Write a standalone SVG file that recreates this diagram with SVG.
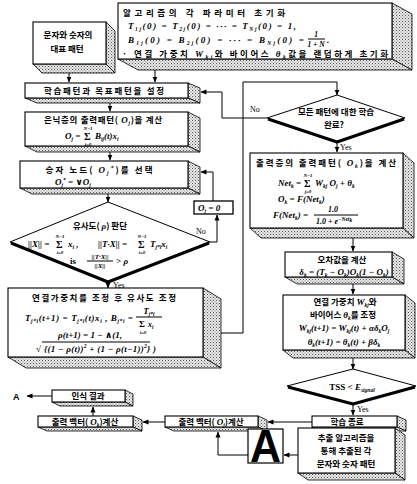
<svg xmlns="http://www.w3.org/2000/svg" width="417" height="484" viewBox="0 0 417 484">
<defs>
  <pattern id="dots" width="3" height="3" patternUnits="userSpaceOnUse">
    <rect width="3" height="3" fill="#e6e6e6"/>
    <rect width="1" height="1" fill="#5a5a5a"/>
    <rect x="1.5" y="1.5" width="1" height="1" fill="#8a8a8a"/>
  </pattern>
  <marker id="ah" markerWidth="6" markerHeight="6" refX="5.5" refY="3" orient="auto" markerUnits="userSpaceOnUse">
    <path d="M0,0.5 L6,3 L0,5.5 z" fill="#000"/>
  </marker>
  <style>
    .face{fill:#fff;stroke:#000;stroke-width:1.1}
    .shade{fill:url(#dots);stroke:#000;stroke-width:0.8;stroke-linejoin:round}
    .dia{fill:#fff;stroke:#000;stroke-width:1}
    .diash{fill:none;stroke:#000;stroke-width:3;stroke-linejoin:round}
    .ln{fill:none;stroke:#000;stroke-width:1}
    .ar{marker-end:url(#ah)}
    .ko{font-family:"Noto Sans CJK KR","Noto Sans CJK SC",sans-serif;font-weight:700;font-size:8.5px;fill:#000}
    .m{font-family:"Liberation Serif","DejaVu Serif",serif;font-style:italic;font-weight:700;font-size:9px;fill:#000}
    .sg{font-family:"Liberation Serif","DejaVu Serif",serif;font-weight:700;font-size:10px}
    .sm{font-size:5.5px}
    .lim{font-family:"Liberation Serif","DejaVu Serif",serif;font-style:italic;font-weight:700;font-size:5px;text-anchor:middle}
    .c{text-anchor:middle}
    .lbl{font-family:"Liberation Serif","DejaVu Serif",serif;font-size:8px;fill:#000}
  </style>
</defs>
<rect width="417" height="484" fill="#fff"/>

<!-- connectors -->
<g id="connectors">
  <path class="ln ar" d="M69,73 V82"/>
  <path class="ln ar" d="M155,70 V82"/>
  <path class="ln ar" d="M110,103 V111"/>
  <path class="ln ar" d="M110,152 V160"/>
  <path class="ln ar" d="M108,194 V202"/>
  <path class="ln ar" d="M108,282 V288"/>
  <path class="ln ar" d="M210,242 H217 V215"/>
  <path class="ln ar" d="M213,201 V172 H201"/>
  <path class="ln ar" d="M221,333 H243 V82 H337 V95"/>
  <path class="ln ar" d="M267,118 H222 V92 H201"/>
  <path class="ln ar" d="M337,142 V152"/>
  <path class="ln ar" d="M353,238 V251"/>
  <path class="ln ar" d="M353,284 V294"/>
  <path class="ln ar" d="M353,358 V369"/>
  <path class="ln ar" d="M353,404 V415"/>
  <path class="ln ar" d="M312,422 H268"/>
  <path class="ln ar" d="M165,422 H143"/>
  <path class="ln ar" d="M93,416 V407"/>
  <path class="ln ar" d="M52,396 H27"/>
  <path class="ln ar" d="M248,455 H218 V432"/>
  <path class="ln ar" d="M298,455 H284"/>
  <text class="lbl" x="196" y="234">No</text>
  <text class="lbl" x="113" y="288">Yes</text>
  <text class="lbl" x="250" y="112">No</text>
  <text class="lbl" x="340" y="150">Yes</text>
  <text class="lbl" x="357" y="412">Yes</text>
  <text x="13" y="400" style="font-family:'Liberation Sans',sans-serif;font-weight:700;font-size:9px">A</text>
</g>

<!-- representative patterns -->
<g id="rep-patterns">
  <polygon class="shade" points="106,22 115,31 115,73 106,64"/>
  <polygon class="shade" points="33,64 106,64 115,73 42,73"/>
  <rect class="face" x="33" y="22" width="73" height="42"/>
  <text class="ko c" x="68" y="38">문자와 숫자의</text>
  <text class="ko c" x="67" y="52">대표 패턴</text>
</g>

<!-- parameter initialisation -->
<g id="init">
  <polygon class="shade" points="392,3 412,14 412,70 392,59"/>
  <polygon class="shade" points="118,59 392,59 412,70 138,70"/>
  <rect class="face" x="118" y="3" width="274" height="56"/>
  <text class="ko" x="123" y="16" textLength="162">알고리즘의 각 파라미터 초기화</text>
  <text class="m" x="128" y="29" textLength="168">T<tspan class="sm" baseline-shift="-2">1j</tspan>(0) = T<tspan class="sm" baseline-shift="-2">2j</tspan>(0) = ··· = T<tspan class="sm" baseline-shift="-2">Nj</tspan>(0) = 1,</text>
  <text class="m" x="128" y="43" textLength="176">B<tspan class="sm" baseline-shift="-2">1j</tspan>(0) = B<tspan class="sm" baseline-shift="-2">2j</tspan>(0) = ··· = B<tspan class="sm" baseline-shift="-2">Nj</tspan>(0) =</text>
  <text class="m c" x="316" y="37" style="font-size:7.5px">1</text>
  <line class="ln" x1="308" y1="39" x2="325" y2="39"/>
  <text class="m c" x="316" y="46.5" style="font-size:7.5px">1 + N</text>
  <text class="m" x="327" y="43">.</text>
  <text class="ko" x="122" y="57" textLength="266">· 연결 가중치 <tspan class="m">W<tspan class="sm" baseline-shift="-2">kj</tspan></tspan>와 바이어스 <tspan class="m">θ<tspan class="sm" baseline-shift="-2">k</tspan></tspan>값을 랜덤하게 초기화</text>
</g>

<!-- set patterns -->
<g id="set-patterns">
  <polygon class="shade" points="188,83 200,88 200,103 188,98"/>
  <polygon class="shade" points="25,98 188,98 200,103 37,103"/>
  <rect class="face" x="25" y="83" width="163" height="15"/>
  <text class="ko c" x="104" y="94" textLength="120">학습패턴과 목표패턴을 설정</text>
</g>

<!-- hidden layer output -->
<g id="hidden-out">
  <polygon class="shade" points="188,112 200,118 200,152 188,146"/>
  <polygon class="shade" points="25,146 188,146 200,152 37,152"/>
  <rect class="face" x="25" y="112" width="163" height="34"/>
  <text class="ko c" x="103" y="123" textLength="118">은닉층의 출력패턴( <tspan class="m">O<tspan class="sm" baseline-shift="-2">j</tspan></tspan>)을 계산</text>
  <text class="m" x="65" y="139">O<tspan class="sm" baseline-shift="-2">j</tspan> =</text>
  <text class="sg" x="84" y="140">Σ</text>
  <text class="lim" x="88" y="130">N−1</text>
  <text class="lim" x="88" y="145.5">i=0</text>
  <text class="m" x="95" y="139">B<tspan class="sm" baseline-shift="-2">ij</tspan>(t)x<tspan class="sm" baseline-shift="-2">i</tspan></text>
</g>

<!-- winner node -->
<g id="winner">
  <polygon class="shade" points="188,161 200,167 200,194 188,188"/>
  <polygon class="shade" points="20,188 188,188 200,194 32,194"/>
  <rect class="face" x="20" y="161" width="168" height="27"/>
  <text class="ko c" x="99" y="173" textLength="107">승자 노드( <tspan class="m">O<tspan class="sm" baseline-shift="-2">j</tspan><tspan class="sm" baseline-shift="3">*</tspan></tspan>)를 선택</text>
  <text class="m" x="55" y="185">O<tspan class="sm" baseline-shift="-2">j</tspan><tspan class="sm" baseline-shift="3">*</tspan> = ∨O<tspan class="sm" baseline-shift="-2">j</tspan></text>
</g>

<!-- reset output -->
<g id="reset">
  <rect class="face" x="194" y="201" width="39" height="13" style="stroke-width:1.3"/>
  <text class="m" x="198" y="211">O<tspan class="sm" baseline-shift="-2">j</tspan> = 0</text>
</g>

<!-- vigilance test -->
<g id="vigilance">
  <polygon class="dia" points="108,202 210,242 108,282 10,242"/>
  <polyline class="diash" points="11,243 108,282 209,243"/>
  <text class="ko c" x="100" y="229">유사도( <tspan class="m">ρ</tspan>) 판단</text>
  <text class="m" x="28" y="247">||X|| =</text>
  <text class="sg" x="56" y="248">Σ</text>
  <text class="lim" x="60" y="238">N−1</text>
  <text class="lim" x="60" y="254">i=0</text>
  <text class="m" x="68" y="247">x<tspan class="sm" baseline-shift="-2">i</tspan> ,</text>
  <text class="m" x="98" y="247">||T·X|| =</text>
  <text class="sg" x="138" y="248">Σ</text>
  <text class="lim" x="142" y="238">N−1</text>
  <text class="lim" x="142" y="254">i=0</text>
  <text class="m" x="150" y="247">T<tspan class="sm" baseline-shift="-2">j*i</tspan>x<tspan class="sm" baseline-shift="-2">i</tspan></text>
  <text class="m" x="70" y="264" style="font-style:normal">is</text>
  <text class="m c" x="100" y="259" style="font-size:7px">||T·X||</text>
  <line class="ln" x1="87" y1="261" x2="113" y2="261"/>
  <text class="m c" x="100" y="268" style="font-size:7px">||X||</text>
  <text class="m" x="116" y="264">&gt; ρ</text>
</g>

<!-- weight and vigilance update -->
<g id="art-update">
  <polygon class="shade" points="203,288 221,299 221,368 203,357"/>
  <polygon class="shade" points="8,357 203,357 221,368 26,368"/>
  <rect class="face" x="8" y="288" width="195" height="69"/>
  <text class="ko c" x="104" y="301" textLength="144">연결가중치를 조정 후 유사도 조정</text>
  <text class="m" x="25" y="321" textLength="108">T<tspan class="sm" baseline-shift="-2">j*i</tspan>(t+1) = T<tspan class="sm" baseline-shift="-2">j*i</tspan>(t)x<tspan class="sm" baseline-shift="-2">i</tspan> , B<tspan class="sm" baseline-shift="-2">j*i</tspan> =</text>
  <text class="m c" x="149" y="314">T<tspan class="sm" baseline-shift="-2">j*i</tspan></text>
  <line class="ln" x1="136" y1="317" x2="162" y2="317"/>
  <text class="sg" x="139" y="327" style="font-size:9px">Σ</text>
  <text class="lim" x="143" y="333.5">i=0</text>
  <text class="m" x="148" y="327" style="font-size:8px">x<tspan class="sm" baseline-shift="-2">i</tspan></text>
  <text class="m c" x="90" y="338">ρ(t+1) = 1 − ∧(1,</text>
  <text class="m" x="36" y="352" style="font-style:normal">√</text>
  <line class="ln" x1="42" y1="342" x2="150" y2="342"/>
  <text class="m" x="44" y="352" textLength="112">{(1 − ρ(t))<tspan class="sm" baseline-shift="4">2</tspan> + (1 − ρ(t−1))<tspan class="sm" baseline-shift="4">2</tspan>} )</text>
</g>

<!-- all patterns learned? -->
<g id="all-learned">
  <polygon class="dia" points="337,95 405,118 337,142 267,118"/>
  <polyline class="diash" points="268,119 337,142 404,119"/>
  <text class="ko c" x="336" y="115">모든 패턴에 대한 학습</text>
  <text class="ko c" x="334" y="128">완료?</text>
</g>

<!-- output layer -->
<g id="output-layer">
  <polygon class="shade" points="403,153 414,163 414,238 403,228"/>
  <polygon class="shade" points="250,228 403,228 414,238 261,238"/>
  <rect class="face" x="250" y="153" width="153" height="75"/>
  <text class="ko c" x="326" y="166" textLength="140">출력층의 출력패턴( <tspan class="m">O<tspan class="sm" baseline-shift="-2">k</tspan></tspan>)을 계산</text>
  <text class="m" x="278" y="186">Net<tspan class="sm" baseline-shift="-2">k</tspan> =</text>
  <text class="sg" x="304" y="187">Σ</text>
  <text class="lim" x="308" y="177">N−1</text>
  <text class="lim" x="308" y="193">j=0</text>
  <text class="m" x="315" y="186">W<tspan class="sm" baseline-shift="-2">kj</tspan> O<tspan class="sm" baseline-shift="-2">j</tspan> + θ<tspan class="sm" baseline-shift="-2">k</tspan></text>
  <text class="m" x="278" y="202">O<tspan class="sm" baseline-shift="-2">k</tspan> = F(Net<tspan class="sm" baseline-shift="-2">k</tspan>)</text>
  <text class="m" x="273" y="218">F(Net<tspan class="sm" baseline-shift="-2">k</tspan>) =</text>
  <text class="m c" x="333" y="212" style="font-size:8px">1.0</text>
  <line class="ln" x1="314" y1="215" x2="358" y2="215"/>
  <text class="m" x="316" y="224" style="font-size:8px">1.0 + e<tspan class="sm" baseline-shift="3">−Net<tspan baseline-shift="-1">k</tspan></tspan></text>
</g>

<!-- error -->
<g id="error">
  <polygon class="shade" points="392,252 404,259 404,284 392,277"/>
  <polygon class="shade" points="285,277 392,277 404,284 297,284"/>
  <rect class="face" x="285" y="252" width="107" height="25"/>
  <text class="ko c" x="342" y="263">오차값을 계산</text>
  <text class="m c" x="344" y="275">δ<tspan class="sm" baseline-shift="-2">k</tspan> = (T<tspan class="sm" baseline-shift="-2">k</tspan> − O<tspan class="sm" baseline-shift="-2">k</tspan>)O<tspan class="sm" baseline-shift="-2">k</tspan>(1 − O<tspan class="sm" baseline-shift="-2">k</tspan>)</text>
</g>

<!-- weight and bias update -->
<g id="bp-update">
  <polygon class="shade" points="405,295 415,303 415,358 405,350"/>
  <polygon class="shade" points="283,350 405,350 415,358 293,358"/>
  <rect class="face" x="283" y="295" width="122" height="55"/>
  <text class="ko c" x="345" y="305">연결 가중치 <tspan class="m">W<tspan class="sm" baseline-shift="-2">kj</tspan></tspan>와</text>
  <text class="ko c" x="343" y="318">바이어스 <tspan class="m">θ<tspan class="sm" baseline-shift="-2">k</tspan></tspan>를 조정</text>
  <text class="m c" x="344" y="331">W<tspan class="sm" baseline-shift="-2">kj</tspan>(t+1) = W<tspan class="sm" baseline-shift="-2">kj</tspan>(t) + αδ<tspan class="sm" baseline-shift="-2">k</tspan>O<tspan class="sm" baseline-shift="-2">j</tspan></text>
  <text class="m c" x="344" y="345">θ<tspan class="sm" baseline-shift="-2">k</tspan>(t+1) = θ<tspan class="sm" baseline-shift="-2">k</tspan>(t) + βδ<tspan class="sm" baseline-shift="-2">k</tspan></text>
</g>

<!-- error threshold test -->
<g id="tss">
  <polygon class="dia" points="353,369 416,386 353,404 287,386"/>
  <polyline class="diash" points="288,387 353,404 415,387"/>
  <text class="m c" x="352" y="390" style="font-style:normal">TSS &lt; <tspan style="font-style:italic">E<tspan class="sm" baseline-shift="-2">signal</tspan></tspan></text>
</g>

<!-- learning finished -->
<g id="learn-end">
  <polygon class="shade" points="397,416 406,420 406,431 397,427"/>
  <polygon class="shade" points="312,427 397,427 406,431 321,431"/>
  <rect class="face" x="312" y="416" width="85" height="11"/>
  <text class="ko c" x="347" y="425">학습 종료</text>
</g>

<!-- output vector O_j -->
<g id="vec-j">
  <polygon class="shade" points="258,416 267,420 267,431 258,427"/>
  <polygon class="shade" points="165,427 258,427 267,431 174,431"/>
  <rect class="face" x="165" y="416" width="93" height="11"/>
  <text class="ko c" x="211" y="425">출력 벡터( <tspan class="m">O<tspan class="sm" baseline-shift="-2">j</tspan></tspan>)계산</text>
</g>

<!-- output vector O_k -->
<g id="vec-k">
  <polygon class="shade" points="133,416 142,420 142,431 133,427"/>
  <polygon class="shade" points="38,427 133,427 142,431 47,431"/>
  <rect class="face" x="38" y="416" width="95" height="11"/>
  <text class="ko c" x="85" y="425">출력 벡터( <tspan class="m">O<tspan class="sm" baseline-shift="-2">k</tspan></tspan>)계산</text>
</g>

<!-- recognition result -->
<g id="result">
  <polygon class="shade" points="125,390 133,394 133,406 125,402"/>
  <polygon class="shade" points="52,402 125,402 133,406 60,406"/>
  <rect class="face" x="52" y="390" width="73" height="12"/>
  <text class="ko c" x="88" y="399">인식 결과</text>
</g>

<!-- sample character image -->
<g id="sample-a">
  <rect x="248" y="429" width="35" height="34" fill="#fff" stroke="#000" stroke-width="1.2"/>
  <text x="250" y="462" textLength="31" lengthAdjust="spacingAndGlyphs" style="font-family:'Liberation Sans',sans-serif;font-weight:700;font-size:46px">A</text>
</g>

<!-- extracted patterns -->
<g id="extracted">
  <polygon class="shade" points="395,428 405,435 405,480 395,473"/>
  <polygon class="shade" points="298,473 395,473 405,480 308,480"/>
  <rect class="face" x="298" y="428" width="97" height="45"/>
  <text class="ko c" x="346" y="441">추출 알고리즘을</text>
  <text class="ko c" x="346" y="454">통해 추출된 각</text>
  <text class="ko c" x="346" y="467">문자와 숫자 패턴</text>
</g>
</svg>
